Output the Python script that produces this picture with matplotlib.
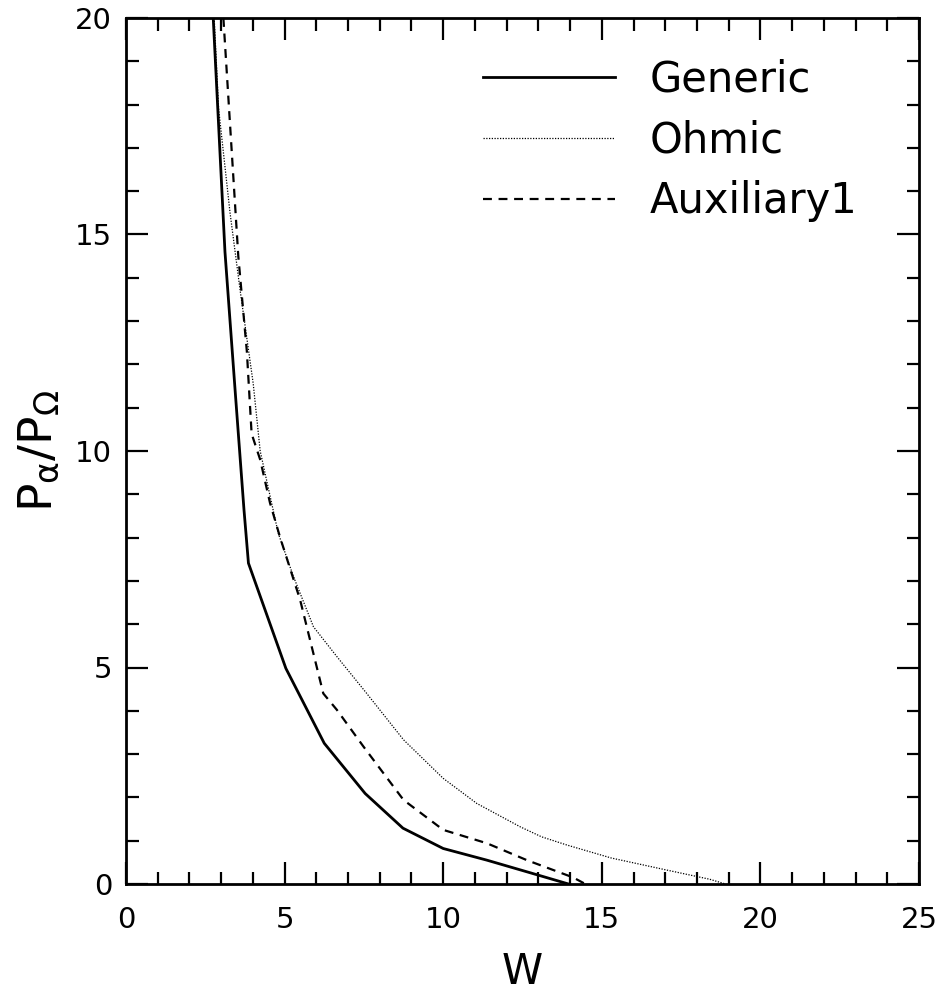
import numpy as np
import matplotlib.pyplot as plt
from matplotlib.ticker import MultipleLocator

# data
w_generic = [2.75, 3.12, 3.45, 3.72, 3.86, 5.04, 6.25, 7.54, 8.73, 10.0, 11.38, 12.74, 13.95]
p_generic = [20.0, 14.6, 11.3, 8.64, 7.41, 4.98, 3.25, 2.09, 1.29, 0.82, 0.55, 0.26, 0.0]

w_ohmic = [2.78, 2.92, 3.28, 3.6, 4.01, 4.23, 4.8, 5.28, 5.91, 6.65, 7.59, 8.75, 10.0,
           11.06, 12.43, 13.1, 13.9, 15.3, 17.06, 18.4, 18.9]
p_ohmic = [20.0, 17.9, 15.5, 13.7, 11.56, 10.0, 8.1, 7.1, 5.94, 5.25, 4.4, 3.33, 2.44,
           1.86, 1.32, 1.09, 0.9, 0.6, 0.32, 0.11, 0.0]

w_aux = [3.07, 3.54, 3.81, 3.96, 4.23, 4.54, 4.86, 5.49, 6.22, 6.65, 7.49, 8.75, 10.0,
         11.38, 12.64, 14.1, 14.48]
p_aux = [20.0, 14.5, 12.3, 10.4, 9.8, 8.8, 8.0, 6.56, 4.4, 4.02, 3.17, 1.94, 1.25,
         0.94, 0.55, 0.15, 0.0]

labels = ["Generic", "Ohmic", "Auxiliary1"]

plt.rcParams['font.family'] = ['DejaVu Sans']
plt.rcParams['mathtext.default'] = 'regular'

fig = plt.figure(figsize=(9.43, 10.06), dpi=100)
ax = fig.add_axes([126 / 943, 1 - 884 / 1006, 793 / 943, 866 / 1006])

ax.plot(w_generic, p_generic, color="black", lw=2.0, label=labels[0])
ax.plot(w_ohmic, p_ohmic, color="black", lw=0.9, linestyle=(0, (1, 1.2)), label=labels[1])
ax.plot(w_aux, p_aux, color="black", lw=1.6, linestyle=(0, (4, 3)), label=labels[2])

ax.set_xlim(0, 25)
ax.set_ylim(0, 20)
ax.xaxis.set_major_locator(MultipleLocator(5))
ax.xaxis.set_minor_locator(MultipleLocator(1))
ax.yaxis.set_major_locator(MultipleLocator(5))
ax.yaxis.set_minor_locator(MultipleLocator(1))
ax.tick_params(which="both", direction="in", top=True, right=True, width=1.6, colors="black")
ax.tick_params(which="major", length=16, labelsize=21)
ax.tick_params(axis="x", which="major", pad=16)
ax.tick_params(axis="y", which="major", pad=10)
ax.tick_params(which="minor", length=9)
for s in ax.spines.values():
    s.set_linewidth(2.0)

ax.set_xlabel("W", fontsize=30, labelpad=12)
ax.set_ylabel(r"$P_{\alpha}/P_{\Omega}$", fontsize=34, labelpad=10)

leg = ax.legend(loc="upper left", bbox_to_anchor=(0.45, 0.953), frameon=False,
                fontsize=30, handlelength=3.17, handletextpad=0.84, labelspacing=0.45,
                borderpad=0, borderaxespad=0)

plt.savefig("out.png", dpi=100)
plt.close()
